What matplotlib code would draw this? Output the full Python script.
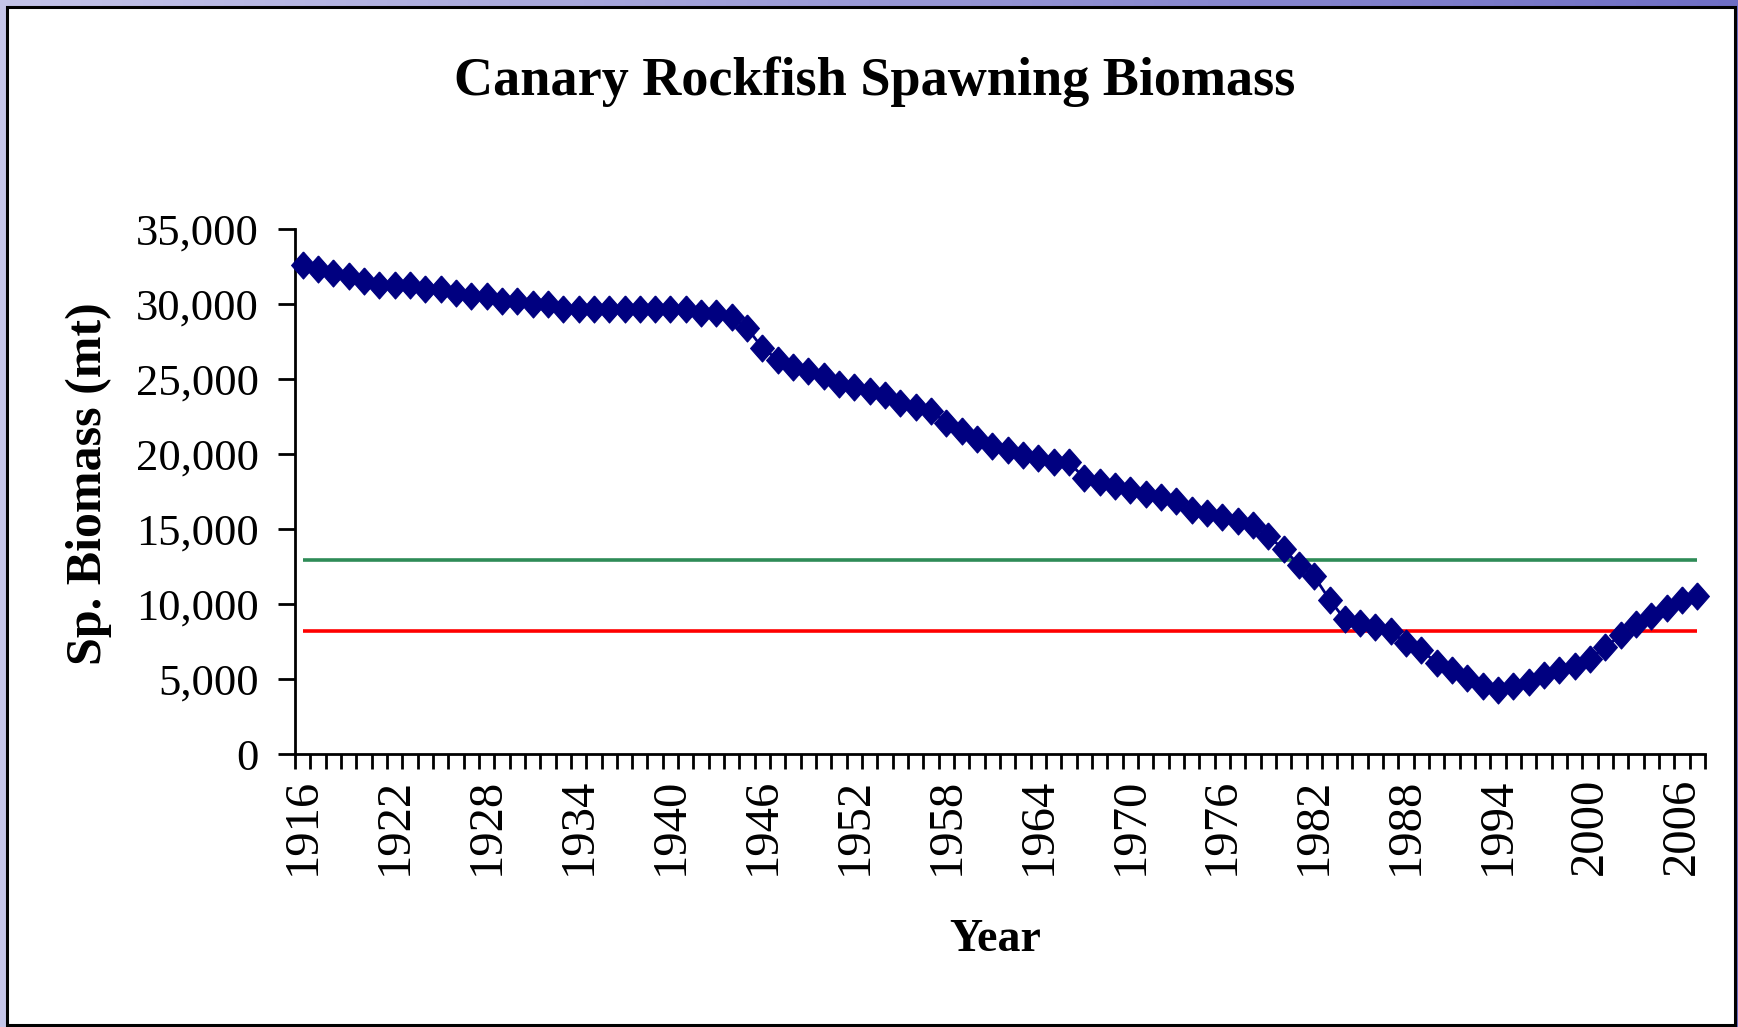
import numpy as np
import matplotlib
matplotlib.use('Agg')
import matplotlib.pyplot as plt
from matplotlib.patches import Rectangle
from matplotlib.ticker import FuncFormatter

plt.rcParams['font.family'] = ['Liberation Serif', 'DejaVu Serif']

# data
years = np.arange(1916, 2008)
biomass = [32600, 32350, 32090, 31870, 31580, 31310, 31310, 31310, 31040, 31040,
           30750, 30530, 30530, 30240, 30240, 30020, 30020, 29710, 29710, 29710,
           29710, 29710, 29710, 29710, 29710, 29710, 29420, 29420, 29150, 28420,
           27090, 26310, 25800, 25530, 25240, 24710, 24470, 24200, 23930, 23420,
           23150, 22910, 22090, 21570, 21040, 20570, 20270, 19970, 19750, 19470,
           19470, 18420, 18150, 17910, 17640, 17370, 17130, 16870, 16310, 16090,
           15800, 15570, 15290, 14530, 13690, 12640, 11870, 10310, 9000, 8730,
           8470, 8200, 7420, 6930, 6090, 5600, 5090, 4530, 4270, 4530,
           4800, 5310, 5600, 5870, 6370, 7150, 7930, 8710, 9240, 9750,
           10310, 10570]
target_level = 12930     # green line
threshold_level = 8220   # red line
y_ticks = [0, 5000, 10000, 15000, 20000, 25000, 30000, 35000]

W, H = 1738, 1027
fig = plt.figure(figsize=(W / 100, H / 100), dpi=100)

# lavender slide background with a white framed panel
bg = fig.add_axes([0, 0, 1, 1], zorder=-10)
grad = np.linspace(0, 1, 256)[None, :]
cmap = matplotlib.colors.LinearSegmentedColormap.from_list('bg', ['#c4c4e8', '#6e6ec4'])
bg.imshow(grad, aspect='auto', cmap=cmap, extent=[0, 1, 0, 1])
bg.add_patch(Rectangle((7 / W, 2 / H), 1728 / W, 1018 / H, facecolor='white',
                       edgecolor='black', linewidth=2.2, transform=bg.transAxes))
bg.set_xlim(0, 1)
bg.set_ylim(0, 1)
bg.axis('off')

ax = fig.add_axes([295 / W, 1 - 754.3 / H, 1410 / W, 525 / H])
ax.patch.set_alpha(0)

ax.hlines(target_level, years[0], years[-1], color='#2e8b57', linewidth=2.6, zorder=2)
ax.hlines(threshold_level, years[0], years[-1], color='#ff0000', linewidth=2.6, zorder=2)

diamond = [(0, 1), (0.88, 0), (0, -1), (-0.88, 0), (0, 1)]
ax.plot(years, biomass, color='#000080', marker=diamond, markersize=19.5,
        markeredgecolor='#000080', markeredgewidth=0.8, linewidth=2, zorder=3, clip_on=False)

ax.set_xlim(1915.5, 2007.5)
ax.set_ylim(0, 35000)

for s in ['top', 'right']:
    ax.spines[s].set_visible(False)
for s in ['left', 'bottom']:
    ax.spines[s].set_linewidth(2)

ax.set_yticks(y_ticks)
ax.yaxis.set_major_formatter(FuncFormatter(lambda v, p: f'{v:,.0f}'))
ax.tick_params(axis='y', direction='out', length=12, width=2, pad=14, labelsize=32)

ax.set_xticks(years[::6])
ax.set_xticklabels([str(y) for y in years[::6]], rotation=90)
ax.set_xticks(np.arange(1915.5, 2008), minor=True)
ax.tick_params(axis='x', which='major', length=0, pad=17, labelsize=35)
ax.tick_params(axis='x', which='minor', direction='out', length=11, width=2)

fig.text(875 / W, 1 - 82 / H, 'Canary Rockfish Spawning Biomass', ha='center', va='center',
         fontsize=39, fontweight='bold')
fig.text(89 / W, 1 - 484 / H, 'Sp. Biomass (mt)', rotation=90, ha='center', va='center',
         fontsize=36, fontweight='bold')
fig.text(995 / W, 1 - 940 / H, 'Year', ha='center', va='center', fontsize=33, fontweight='bold')

fig.savefig('out.png', dpi=100)
